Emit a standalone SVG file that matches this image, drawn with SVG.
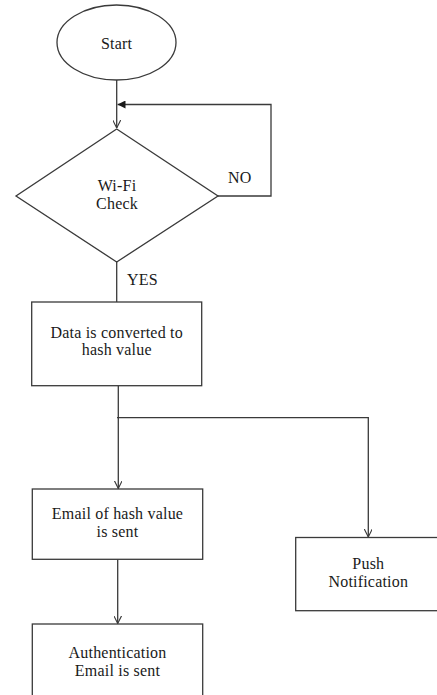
<svg xmlns="http://www.w3.org/2000/svg" width="437" height="695" viewBox="0 0 437 695">
  <style>
    .shape { fill: #ffffff; stroke: #3a3a3a; stroke-width: 1.3; }
    .edge { fill: none; stroke: #3a3a3a; stroke-width: 1.3; }
    text { font-family: "Liberation Serif", "Times New Roman", serif; font-size: 16px; letter-spacing: 0.2px; fill: #1a1a1a; }
    .c { text-anchor: middle; }
  </style>
  <defs>
    <marker id="open" viewBox="0 0 10 10" refX="10" refY="5" markerWidth="8" markerHeight="8" markerUnits="userSpaceOnUse" orient="auto">
      <path d="M0,0 L10,5 L0,10" fill="none" stroke="#3a3a3a" stroke-width="1.4"/>
    </marker>
    <marker id="solid" viewBox="0 0 10 10" refX="10" refY="5" markerWidth="8" markerHeight="8" markerUnits="userSpaceOnUse" orient="auto">
      <path d="M0,0 L10,5 L0,10 Z" fill="#1a1a1a"/>
    </marker>
  </defs>
  <rect width="437" height="695" fill="#ffffff"/>

  <g id="connectors">
    <path class="edge" d="M116.7,80 V128" marker-end="url(#open)"/>
    <path class="edge" d="M218,196 H271 V104.5 H117.5" marker-end="url(#solid)"/>
    <path class="edge" d="M116.7,262 V302"/>
    <path class="edge" d="M118.3,386 V488.5" marker-end="url(#open)"/>
    <path class="edge" d="M117,417.7 H368.3 V537" marker-end="url(#open)"/>
    <path class="edge" d="M117.7,559.5 V623.5" marker-end="url(#open)"/>
    <text x="228" y="183">NO</text>
    <text x="127" y="285">YES</text>
  </g>

  <g id="start">
    <ellipse class="shape" cx="116.5" cy="42.5" rx="59.5" ry="37.5"/>
    <text class="c" x="116.5" y="49">Start</text>
  </g>

  <g id="wifi-check">
    <polygon class="shape" points="116.7,129 218,196 116.7,262 16,196"/>
    <text class="c" x="117" y="191">Wi-Fi</text>
    <text class="c" x="117" y="209">Check</text>
  </g>

  <g id="hash">
    <rect class="shape" x="31.7" y="302" width="170" height="83.7"/>
    <text class="c" x="116.7" y="338">Data is converted to</text>
    <text class="c" x="116.7" y="355">hash value</text>
  </g>

  <g id="email-hash">
    <rect class="shape" x="32.3" y="489" width="170.4" height="70.3"/>
    <text class="c" x="117.5" y="519">Email of hash value</text>
    <text class="c" x="117.5" y="537">is sent</text>
  </g>

  <g id="push">
    <rect class="shape" x="295.7" y="537.5" width="145" height="73.2"/>
    <text class="c" x="368.3" y="569">Push</text>
    <text class="c" x="368.3" y="587">Notification</text>
  </g>

  <g id="auth-email">
    <rect class="shape" x="32.3" y="624" width="170.4" height="80"/>
    <text class="c" x="117.5" y="658">Authentication</text>
    <text class="c" x="117.5" y="676">Email is sent</text>
  </g>
</svg>
